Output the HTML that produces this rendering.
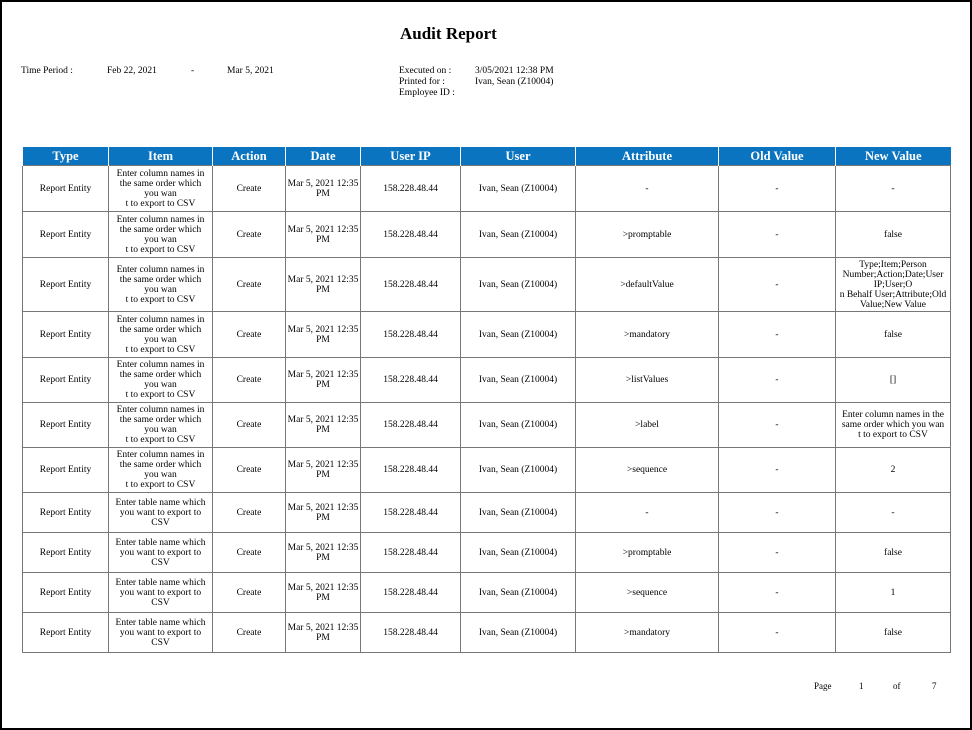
<!DOCTYPE html>
<html><head><meta charset="utf-8"><style>
html,body{margin:0;padding:0;}
body{width:972px;height:730px;position:relative;background:#fff;font-family:"Liberation Serif",serif;color:#000;overflow:hidden;}
.frame{position:absolute;left:0;top:0;width:968px;height:726px;border:2px solid #000;}
.t{position:absolute;font-size:9.5px;white-space:nowrap;}
h1{position:absolute;left:400px;top:24px;margin:0;font-size:17px;font-weight:bold;white-space:nowrap;}
table{position:absolute;left:22px;top:147px;border-collapse:collapse;table-layout:fixed;width:928px;}
th{background:#0b74c0;color:#fff;font-size:12.5px;font-weight:bold;height:18px;padding:0;border-left:1px solid #fff;line-height:18px;}
td{border:1px solid #777;font-size:9.5px;text-align:center;vertical-align:middle;padding:0;line-height:10px;white-space:nowrap;overflow:hidden;}
</style></head><body>
<div class="frame"></div>
<h1>Audit Report</h1>
<div class="t" style="left:21px;top:66px">Time Period :</div>
<div class="t" style="left:107px;top:66px">Feb 22, 2021</div>
<div class="t" style="left:191px;top:66px">-</div>
<div class="t" style="left:227px;top:66px">Mar 5, 2021</div>
<div class="t" style="left:399px;top:66px">Executed on :</div>
<div class="t" style="left:475px;top:66px">3/05/2021 12:38 PM</div>
<div class="t" style="left:399px;top:77px">Printed for :</div>
<div class="t" style="left:475px;top:77px">Ivan, Sean (Z10004)</div>
<div class="t" style="left:399px;top:88px">Employee ID :</div>
<table>
<colgroup><col style="width:86px"><col style="width:104px"><col style="width:73px"><col style="width:75px"><col style="width:100px"><col style="width:115px"><col style="width:143px"><col style="width:117px"><col style="width:115px"></colgroup>
<tr><th>Type</th><th>Item</th><th>Action</th><th>Date</th><th>User IP</th><th>User</th><th>Attribute</th><th>Old Value</th><th>New Value</th></tr>
<tr style="height:46px"><td>Report Entity</td><td>Enter column names in<br>the same order which<br>you wan<br>t to export to CSV</td><td>Create</td><td>Mar 5, 2021 12:35<br>PM</td><td>158.228.48.44</td><td>Ivan, Sean (Z10004)</td><td>-</td><td>-</td><td>-</td></tr>
<tr style="height:46px"><td>Report Entity</td><td>Enter column names in<br>the same order which<br>you wan<br>t to export to CSV</td><td>Create</td><td>Mar 5, 2021 12:35<br>PM</td><td>158.228.48.44</td><td>Ivan, Sean (Z10004)</td><td>&gt;promptable</td><td>-</td><td>false</td></tr>
<tr style="height:54px"><td>Report Entity</td><td>Enter column names in<br>the same order which<br>you wan<br>t to export to CSV</td><td>Create</td><td>Mar 5, 2021 12:35<br>PM</td><td>158.228.48.44</td><td>Ivan, Sean (Z10004)</td><td>&gt;defaultValue</td><td>-</td><td>Type;Item;Person<br>Number;Action;Date;User<br>IP;User;O<br>n Behalf User;Attribute;Old<br>Value;New Value</td></tr>
<tr style="height:46px"><td>Report Entity</td><td>Enter column names in<br>the same order which<br>you wan<br>t to export to CSV</td><td>Create</td><td>Mar 5, 2021 12:35<br>PM</td><td>158.228.48.44</td><td>Ivan, Sean (Z10004)</td><td>&gt;mandatory</td><td>-</td><td>false</td></tr>
<tr style="height:45px"><td>Report Entity</td><td>Enter column names in<br>the same order which<br>you wan<br>t to export to CSV</td><td>Create</td><td>Mar 5, 2021 12:35<br>PM</td><td>158.228.48.44</td><td>Ivan, Sean (Z10004)</td><td>&gt;listValues</td><td>-</td><td>[]</td></tr>
<tr style="height:45px"><td>Report Entity</td><td>Enter column names in<br>the same order which<br>you wan<br>t to export to CSV</td><td>Create</td><td>Mar 5, 2021 12:35<br>PM</td><td>158.228.48.44</td><td>Ivan, Sean (Z10004)</td><td>&gt;label</td><td>-</td><td>Enter column names in the<br>same order which you wan<br>t to export to CSV</td></tr>
<tr style="height:45px"><td>Report Entity</td><td>Enter column names in<br>the same order which<br>you wan<br>t to export to CSV</td><td>Create</td><td>Mar 5, 2021 12:35<br>PM</td><td>158.228.48.44</td><td>Ivan, Sean (Z10004)</td><td>&gt;sequence</td><td>-</td><td>2</td></tr>
<tr style="height:40px"><td>Report Entity</td><td>Enter table name which<br>you want to export to<br>CSV</td><td>Create</td><td>Mar 5, 2021 12:35<br>PM</td><td>158.228.48.44</td><td>Ivan, Sean (Z10004)</td><td>-</td><td>-</td><td>-</td></tr>
<tr style="height:40px"><td>Report Entity</td><td>Enter table name which<br>you want to export to<br>CSV</td><td>Create</td><td>Mar 5, 2021 12:35<br>PM</td><td>158.228.48.44</td><td>Ivan, Sean (Z10004)</td><td>&gt;promptable</td><td>-</td><td>false</td></tr>
<tr style="height:40px"><td>Report Entity</td><td>Enter table name which<br>you want to export to<br>CSV</td><td>Create</td><td>Mar 5, 2021 12:35<br>PM</td><td>158.228.48.44</td><td>Ivan, Sean (Z10004)</td><td>&gt;sequence</td><td>-</td><td>1</td></tr>
<tr style="height:40px"><td>Report Entity</td><td>Enter table name which<br>you want to export to<br>CSV</td><td>Create</td><td>Mar 5, 2021 12:35<br>PM</td><td>158.228.48.44</td><td>Ivan, Sean (Z10004)</td><td>&gt;mandatory</td><td>-</td><td>false</td></tr>
</table>
<div class="t" style="left:814px;top:681px;font-size:9px">Page</div>
<div class="t" style="left:859px;top:681px;font-size:9px">1</div>
<div class="t" style="left:893px;top:681px;font-size:9px">of</div>
<div class="t" style="left:932px;top:681px;font-size:9px">7</div>
</body></html>
